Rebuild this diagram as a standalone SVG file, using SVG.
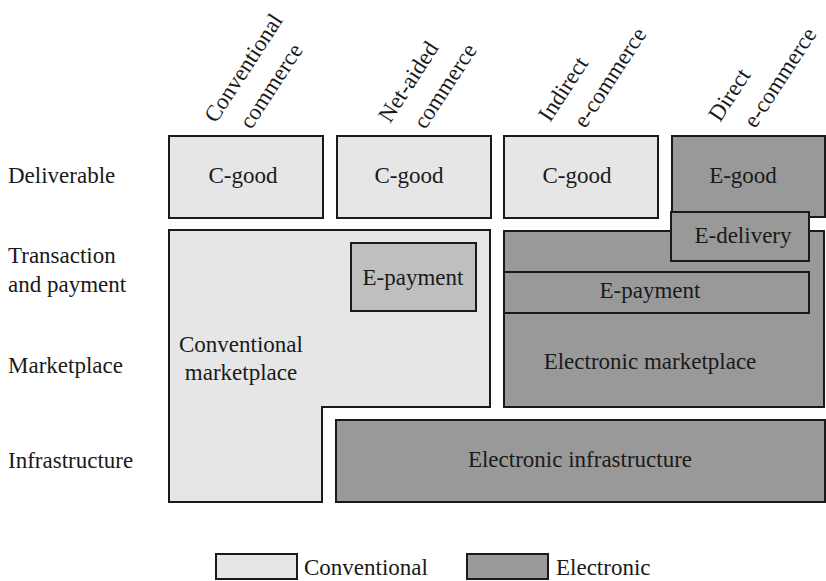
<svg xmlns="http://www.w3.org/2000/svg" width="826" height="581" viewBox="0 0 826 581">
<style>
text { font-family: "Liberation Serif", "DejaVu Serif", serif; font-size: 23px; fill: #1a1a1a; }
.c { text-anchor: middle; }
.lt { fill: #e6e6e6; stroke: #1a1a1a; stroke-width: 2; }
.dk { fill: #999999; stroke: #1a1a1a; stroke-width: 2; }
.md { fill: #bfbfbf; stroke: #1a1a1a; stroke-width: 2; }
.hd { font-size: 23px; }
</style>
<rect width="826" height="581" fill="#ffffff"/>
<g id="headers">
  <text class="hd" transform="translate(216,124) rotate(-57)">Conventional<tspan x="14" y="33">commerce</tspan></text>
  <text class="hd" transform="translate(390,124) rotate(-57)">Net-aided<tspan x="14" y="33">commerce</tspan></text>
  <text class="hd" transform="translate(550,123) rotate(-57)">Indirect<tspan x="14" y="33">e-commerce</tspan></text>
  <text class="hd" transform="translate(720,123) rotate(-57)">Direct<tspan x="14" y="33">e-commerce</tspan></text>
</g>
<g id="row-labels">
  <text x="8" y="183">Deliverable</text>
  <text x="8" y="263">Transaction</text>
  <text x="8" y="292">and payment</text>
  <text x="8" y="373">Marketplace</text>
  <text x="8" y="468">Infrastructure</text>
</g>
<g id="conventional-marketplace">
  <path class="lt" d="M169,230 H490 V407 H322 V502 H169 Z"/>
  <text class="c" x="241" y="352">Conventional</text>
  <text class="c" x="241" y="380">marketplace</text>
</g>
<g id="e-payment-netaided">
  <rect class="md" x="351" y="243" width="125" height="68"/>
  <text class="c" x="413" y="285">E-payment</text>
</g>
<g id="cgood-1">
  <rect class="lt" x="169" y="136" width="154" height="82"/>
  <text class="c" x="243" y="183">C-good</text>
</g>
<g id="cgood-2">
  <rect class="lt" x="337" y="136" width="154" height="82"/>
  <text class="c" x="409" y="183">C-good</text>
</g>
<g id="cgood-3">
  <rect class="lt" x="504" y="136" width="154" height="82"/>
  <text class="c" x="577" y="183">C-good</text>
</g>
<g id="egood">
  <rect class="dk" x="672" y="136" width="153" height="81"/>
  <text class="c" x="743" y="183">E-good</text>
</g>
<g id="electronic-marketplace">
  <rect class="dk" x="504" y="231" width="320" height="176"/>
  <text class="c" x="650" y="369">Electronic marketplace</text>
</g>
<g id="e-delivery">
  <rect class="dk" x="671" y="212" width="138" height="49"/>
  <text class="c" x="743" y="243">E-delivery</text>
</g>
<g id="e-payment-electronic">
  <rect class="dk" x="504" y="272" width="305" height="41"/>
  <text class="c" x="650" y="298">E-payment</text>
</g>
<g id="electronic-infrastructure">
  <rect class="dk" x="336" y="420" width="489" height="82"/>
  <text class="c" x="580" y="467">Electronic infrastructure</text>
</g>
<g id="legend">
  <rect class="lt" x="216" y="554" width="81" height="25"/>
  <text x="304" y="575">Conventional</text>
  <rect class="dk" x="467" y="554" width="81" height="25"/>
  <text x="556" y="575">Electronic</text>
</g>
<g id="connectors"></g>
</svg>
